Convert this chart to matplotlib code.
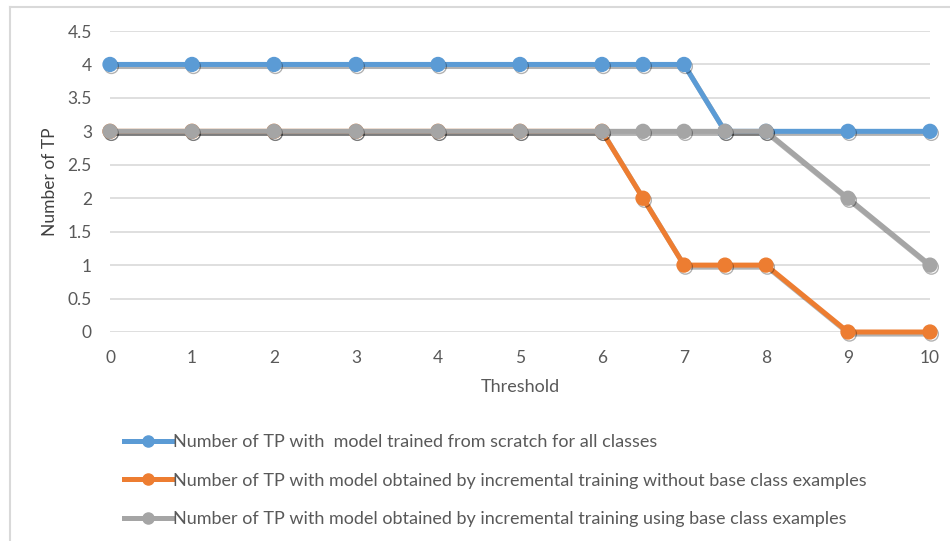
import matplotlib
matplotlib.use("Agg")
import matplotlib.pyplot as plt
import matplotlib.patheffects as pe
from matplotlib.lines import Line2D

plt.rcParams['font.family'] = ['Lato', 'DejaVu Sans']

thresholds = [0, 1, 2, 3, 4, 5, 6, 6.5, 7, 7.5, 8, 9, 10]
scratch = [4, 4, 4, 4, 4, 4, 4, 4, 4, 3, 3, 3, 3]
incr_no_base = [3, 3, 3, 3, 3, 3, 3, 2, 1, 1, 1, 0, 0]
incr_base = [3, 3, 3, 3, 3, 3, 3, 3, 3, 3, 3, 2, 1]

labels = [
    "Number of TP with  model trained from scratch for all classes",
    "Number of TP with model obtained by incremental training without base class examples",
    "Number of TP with model obtained by incremental training using base class examples",
]
colors = ["#5B9BD5", "#ED7D31", "#A5A5A5"]
xticks = list(range(0, 11))
yticks = [0, 0.5, 1, 1.5, 2, 2.5, 3, 3.5, 4, 4.5]
ytick_labels = ["0", "0.5", "1", "1.5", "2", "2.5", "3", "3.5", "4", "4.5"]

txt = "#595959"
fig = plt.figure(figsize=(9.5, 5.41), dpi=100)
ax = fig.add_axes([110/950, 1-332/541, 820/950, 301/541])

shadow = [pe.SimpleLineShadow(offset=(1, -1.5), shadow_color='black', alpha=0.3, rho=0.3), pe.Normal()]
for ys, c in zip([scratch, incr_no_base, incr_base], colors):
    ax.plot(thresholds, ys, color=c, lw=3.6, marker='o', ms=10, clip_on=False,
            path_effects=shadow, zorder=3)

ax.set_xlim(0, 10)
ax.set_ylim(0, 4.5)
ax.set_xticks(xticks)
ax.set_yticks(yticks)
ax.set_yticklabels(ytick_labels)
ax.grid(axis='y', color='#D9D9D9', lw=1.2)
ax.set_axisbelow(True)
for s in ax.spines.values():
    s.set_visible(False)
ax.tick_params(length=0, labelsize=12.5, colors=txt)
ax.tick_params(axis='x', pad=13)
ax.tick_params(axis='y', pad=13)
ax.set_xlabel("Threshold", fontsize=13, color=txt, labelpad=9)
ax.set_ylabel("Number of TP", fontsize=12.5, color="#404040", labelpad=7)

handles = [Line2D([], [], color=c, lw=3.6, marker='o', ms=8) for c in colors]
fig.legend(handles, labels, loc='upper left', bbox_to_anchor=(117/950, 1-427/541),
           frameon=False, fontsize=13, labelcolor=txt, handlelength=2.67,
           handletextpad=0.05, labelspacing=1.25, borderaxespad=0)

# outer frame (top and left)
fig.add_artist(Line2D([10/950, 10/950], [0, 1-7/541], transform=fig.transFigure, color='#D9D9D9', lw=1.5))
fig.add_artist(Line2D([10/950, 1], [1-7/541, 1-7/541], transform=fig.transFigure, color='#D9D9D9', lw=1.5))

fig.savefig("out.png", dpi=100)
